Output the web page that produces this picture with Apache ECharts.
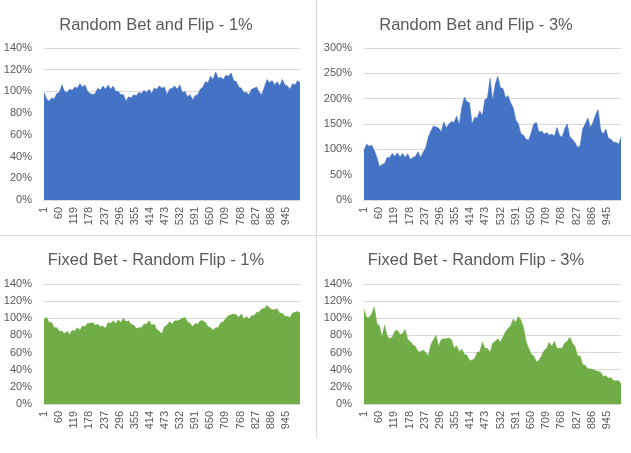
<!DOCTYPE html>
<html>
<head>
<meta charset="utf-8">
<script src="https://cdn.jsdelivr.net/npm/echarts@6/dist/echarts.min.js"></script>
<style>
html,body{margin:0;padding:0;background:#fff;}
#chart{width:631px;height:453px;}
</style>
</head>
<body>
<div id="chart"></div>
<script>
const steps = [1,11,21,31,41,51,61,71,81,91,101,111,121,131,141,151,161,171,181,191,201,211,221,231,241,251,261,271,281,291,301,311,321,331,341,351,361,371,381,391,401,411,421,431,441,451,461,471,481,491,501,511,521,531,541,551,561,571,581,591,601,611,621,631,641,651,661,671,681,691,701,711,721,731,741,751,761,771,781,791,801,811,821,831,841,851,861,871,881,891,901,911,921,931,941,951,961,971,981,991,1000];

const titles = ["Random Bet and Flip - 1%", "Random Bet and Flip - 3%", "Fixed Bet - Random Flip - 1%", "Fixed Bet - Random Flip - 3%"];

const tickLabels = ["1","60","119","178","237","296","355","414","473","532","591","650","709","768","827","886","945"];

// balance in % of starting bankroll
const randomBetFlip1 = [99,93,91,94,93,98,99,106,100,99,102,101,104,103,107,104,106,100,98,97,98,103,101,105,102,106,102,105,100,100,97,97,91,95,94,97,96,99,98,101,99,102,98,103,102,105,103,104,97,102,103,105,102,106,99,100,95,97,92,96,97,102,104,109,108,114,111,118,112,113,111,115,114,117,110,109,104,103,99,99,97,102,103,104,99,97,104,111,108,110,106,109,105,111,106,105,102,107,106,110,108];

const randomBetFlip3 = [98,110,106,108,98,84,66,70,72,84,84,92,86,93,85,92,84,91,80,84,86,95,84,94,103,124,136,146,144,142,134,154,142,150,155,153,166,148,182,203,194,192,150,163,162,176,166,198,202,240,196,228,244,222,220,202,206,192,182,158,150,131,128,120,118,133,150,153,134,136,130,133,128,130,126,143,128,124,140,150,125,120,113,104,106,140,150,162,143,153,168,178,138,130,140,122,120,114,114,110,124];

const fixedBetFlip1 = [99,101,95,95,89,89,85,85,82,85,81,86,85,89,86,91,90,94,94,95,92,93,90,91,88,95,94,97,94,98,95,100,96,97,93,92,88,89,89,93,93,97,92,93,87,85,82,90,92,96,93,97,97,98,100,101,96,94,90,94,93,97,97,95,90,89,86,89,89,95,96,100,103,104,105,104,101,105,99,102,99,103,103,107,107,111,111,115,112,110,110,111,106,106,102,102,101,106,107,108,106];

const fixedBetFlip3 = [110,101,101,105,113,94,91,78,92,79,76,78,85,86,81,82,87,75,73,69,67,61,61,63,60,56,69,75,80,67,75,76,76,77,75,65,68,61,64,58,57,51,51,53,60,61,72,65,65,60,71,73,76,72,78,84,88,91,99,95,102,98,89,73,65,58,56,49,51,56,62,65,72,67,73,65,65,65,71,73,78,71,67,56,56,46,45,41,41,40,39,38,37,32,33,30,31,27,27,27,23];

const seriesValues = [randomBetFlip1, randomBetFlip3, fixedBetFlip1, fixedBetFlip3];
const yMax = [140, 300, 140, 140];
const yStep = [20, 50, 20, 20];
const colors = ["#4472C4", "#4472C4", "#70AD47", "#70AD47"];

const categories = [];
for (let i = 1; i <= 1000; i++) categories.push(String(i));
const tickSet = new Set(tickLabels);

const grids = [
  {left: 44, top: 48, width: 256, height: 152},
  {left: 364, top: 48, width: 257, height: 152},
  {left: 44, top: 284, width: 256, height: 120},
  {left: 364, top: 284, width: 257, height: 120}
];
const titlePos = [[151, 12], [471, 12], [151, 247], [471, 247]];

const textColor = "#595959";
const font = "'Liberation Sans', Arial, sans-serif";

const option = {
  animation: false,
  backgroundColor: "#fff",
  title: titles.map((t, i) => ({
    text: t,
    left: titlePos[i][0],
    top: titlePos[i][1],
    textAlign: "center",
    textStyle: {fontFamily: font, fontSize: 16.5, fontWeight: "normal", color: textColor}
  })),
  grid: grids,
  xAxis: grids.map((g, i) => ({
    type: "category",
    gridIndex: i,
    data: categories,
    boundaryGap: false,
    axisTick: {show: false},
    axisLine: {lineStyle: {color: "#d9d9d9"}},
    axisLabel: {
      rotate: 90,
      margin: 7,
      fontFamily: font,
      fontSize: 11,
      color: textColor,
      interval: (idx, val) => tickSet.has(val)
    },
    splitLine: {show: false}
  })),
  yAxis: grids.map((g, i) => ({
    type: "value",
    gridIndex: i,
    min: 0,
    max: yMax[i],
    interval: yStep[i],
    axisLine: {show: false},
    axisTick: {show: false},
    axisLabel: {formatter: "{value}%", margin: 12, fontFamily: font, fontSize: 11, color: textColor},
    splitLine: {lineStyle: {color: "#d9d9d9", width: 1}}
  })),
  series: seriesValues.map((vals, i) => ({
    type: "line",
    xAxisIndex: i,
    yAxisIndex: i,
    symbol: "none",
    data: steps.map((s, k) => [String(s), vals[k]]),
    lineStyle: {width: 0.6, color: colors[i]},
    areaStyle: {color: colors[i], opacity: 1},
    itemStyle: {color: colors[i]}
  })),
  graphic: [
    {type: "line", shape: {x1: 316.5, y1: 0, x2: 316.5, y2: 438}, style: {stroke: "#d9d9d9", lineWidth: 1}, silent: true},
    {type: "line", shape: {x1: 0, y1: 235.5, x2: 631, y2: 235.5}, style: {stroke: "#d9d9d9", lineWidth: 1}, silent: true}
  ]
};

const chart = echarts.init(document.getElementById("chart"), null, {renderer: "canvas"});
chart.setOption(option);
</script>
</body>
</html>
